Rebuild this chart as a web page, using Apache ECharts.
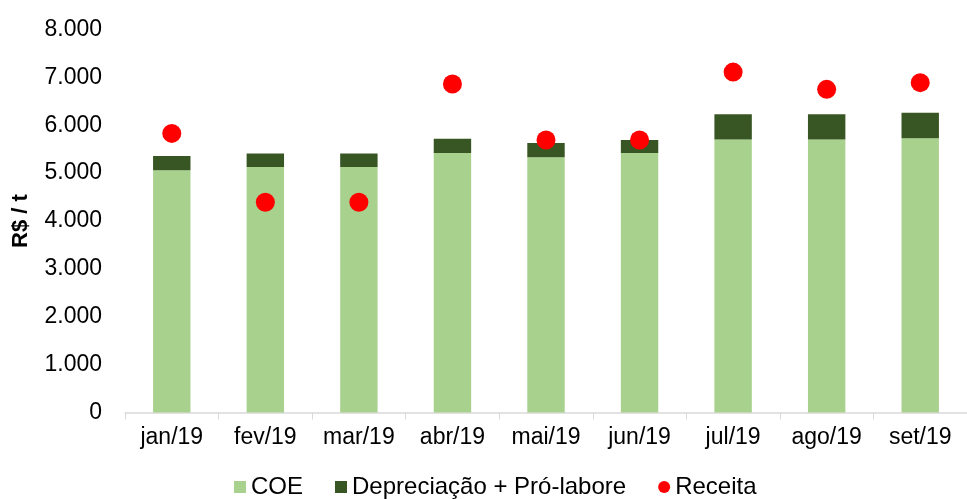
<!DOCTYPE html>
<html>
<head>
<meta charset="utf-8">
<script src="https://cdn.jsdelivr.net/npm/echarts@6/dist/echarts.min.js"></script>
<style>
html, body { margin: 0; padding: 0; background: #fff; }
#chart { width: 967px; height: 499px; }
</style>
</head>
<body>
<div id="chart"></div>
<script>
// custos x receita por tonelada
var months = ['jan/19','fev/19','mar/19','abr/19','mai/19','jun/19','jul/19','ago/19','set/19'];
var coe = [5060, 5130, 5130, 5420, 5330, 5420, 5700, 5700, 5730];
var depreciacao = [300, 280, 280, 300, 300, 270, 530, 530, 530];
var receita = [5830, 4390, 4390, 6860, 5690, 5690, 7110, 6750, 6890];

var chart = echarts.init(document.getElementById('chart'));
var font = 'Liberation Sans, Arial, sans-serif';

var option = {
    animation: false,
    textStyle: { fontFamily: font },
    grid: {
        left: 125,
        top: 29.5,
        width: 846,
        height: 383
    },
    legend: {
        top: 470,
        left: 229,
        itemGap: 32,
        itemWidth: 12,
        itemHeight: 12,
        textStyle: { fontSize: 24, color: '#000', fontFamily: font },
        data: [
            { name: 'COE', icon: 'rect' },
            { name: 'Depreciação + Pró-labore', icon: 'rect' },
            { name: 'Receita', icon: 'circle' }
        ]
    },
    xAxis: {
        type: 'category',
        data: months,
        axisLine: { lineStyle: { color: '#d9d9d9', width: 1.5 } },
        axisTick: { show: true, length: 7, lineStyle: { color: '#d9d9d9' } },
        axisLabel: { color: '#000', fontSize: 23, margin: 14, fontFamily: font }
    },
    yAxis: {
        type: 'value',
        min: 0,
        max: 8000,
        interval: 1000,
        name: 'R$ / t',
        nameLocation: 'middle',
        nameGap: 93,
        nameRotate: 90,
        nameTextStyle: { color: '#000', fontSize: 22, fontWeight: 'bold', fontFamily: font },
        axisLine: { show: false },
        axisTick: { show: false },
        splitLine: { show: false },
        axisLabel: {
            color: '#000',
            fontSize: 23,
            margin: 23,
            fontFamily: font,
            formatter: function (v) {
                return v === 0 ? '0' : (v / 1000) + '.000';
            }
        }
    },
    series: [
        {
            name: 'COE',
            type: 'bar',
            stack: 'custo',
            barWidth: '40%',
            itemStyle: { color: '#a9d18e' },
            data: coe
        },
        {
            name: 'Depreciação + Pró-labore',
            type: 'bar',
            stack: 'custo',
            itemStyle: { color: '#385623' },
            data: depreciacao
        },
        {
            name: 'Receita',
            type: 'scatter',
            symbol: 'circle',
            symbolSize: 19,
            itemStyle: { color: '#ff0000', opacity: 1 },
            z: 5,
            data: receita
        }
    ]
};

chart.setOption(option);
</script>
</body>
</html>
